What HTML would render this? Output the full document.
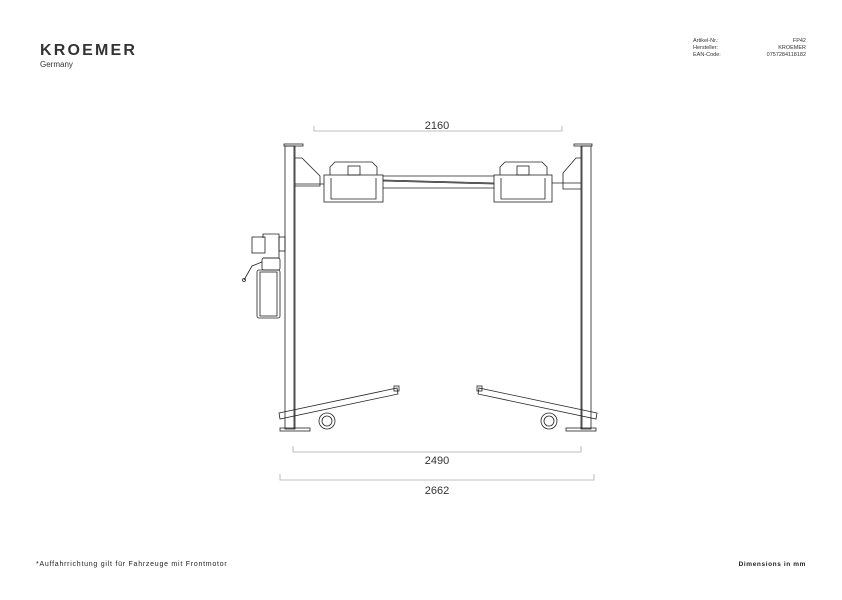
<!DOCTYPE html>
<html><head><style>
body{margin:0;width:842px;height:595px;background:#fff;overflow:hidden;font-family:"Liberation Sans",sans-serif}
</style></head><body>
<svg width="842" height="595" xmlns="http://www.w3.org/2000/svg" font-family="Liberation Sans, sans-serif">
<text x="40" y="55" font-size="16" font-weight="bold" fill="#333" letter-spacing="2.2">KROEMER</text>
<text x="40" y="67" font-size="8" fill="#333">Germany</text>
<g font-size="5.5" fill="#333">
<text x="693" y="42">Artikel-Nr.:</text><text x="693" y="49">Hersteller:</text><text x="693" y="56">EAN-Code:</text>
<text x="806" y="42" text-anchor="end">FP42</text><text x="806" y="49" text-anchor="end">KROEMER</text><text x="806" y="56" text-anchor="end">0757284118182</text>
</g>
<text x="36" y="566" font-size="7" fill="#222" letter-spacing="0.75">*Auffahrrichtung gilt für Fahrzeuge mit Frontmotor</text>
<text x="806" y="566" font-size="6.5" fill="#222" text-anchor="end" font-weight="bold" letter-spacing="0.6">Dimensions in mm</text>
<g stroke="#aaa" stroke-width="0.8" fill="none">
<path d="M314 126V131H562V126"/><path d="M293 446V452H581V446"/><path d="M280 474V480H594V474"/>
</g>
<g font-size="11" fill="#333" text-anchor="middle">
<text x="437" y="129">2160</text><text x="437" y="464">2490</text><text x="437" y="494">2662</text>
</g>
<g stroke="#222" stroke-width="0.8" fill="none">
<rect x="285" y="146" width="10" height="283"/><line x1="294" y1="146" x2="294" y2="429"/>
<rect x="581" y="146" width="10" height="283"/><line x1="582" y1="146" x2="582" y2="429"/>
<rect x="284" y="144" width="19" height="2"/><rect x="574" y="144" width="18" height="2"/>
<rect x="280" y="428" width="30" height="3"/><rect x="566" y="428" width="30" height="3"/>
<path d="M295 158L302 158L320 176L320 186L295 186"/><path d="M581 158L576 158L563 173L563 189L581 189"/>
<line x1="295" y1="184" x2="324" y2="184"/><line x1="552" y1="183" x2="581" y2="183"/>
<rect x="324" y="175" width="59" height="27"/><path d="M331 178V199H376V178"/>
<path d="M330 175V167L335 162H372L377 167V175"/><rect x="348" y="166" width="12" height="9"/>
<rect x="494" y="175" width="58" height="27"/><path d="M501 178V199H545V178"/>
<path d="M500 175V167L505 162H542L547 167V175"/><rect x="517" y="166" width="12" height="9"/>
<line x1="383" y1="176" x2="494" y2="176"/><line x1="383" y1="188" x2="494" y2="188"/>
<line x1="383" y1="180" x2="494" y2="183"/><line x1="383" y1="181" x2="494" y2="184"/>
<rect x="252" y="237" width="13" height="16"/><rect x="279" y="237" width="6" height="14"/>
<path d="M263 238V234H279V258H263"/><rect x="262" y="258" width="18" height="12" rx="2"/>
<rect x="257" y="270" width="23" height="48" rx="2"/><rect x="260" y="272" width="17" height="44"/>
<path d="M262 262L252 266L244 280"/><circle cx="244" cy="280" r="1.5"/>
<path d="M279 413L397 388L398 394L280 419Z"/><rect x="394" y="386" width="5" height="5"/>
<path d="M597 413L479 388L478 394L596 419Z"/><rect x="477" y="386" width="5" height="5"/>
<circle cx="327" cy="421" r="8"/><circle cx="327" cy="421" r="5"/>
<circle cx="549" cy="421" r="8"/><circle cx="549" cy="421" r="5"/>
</g>
</svg>
</body></html>
